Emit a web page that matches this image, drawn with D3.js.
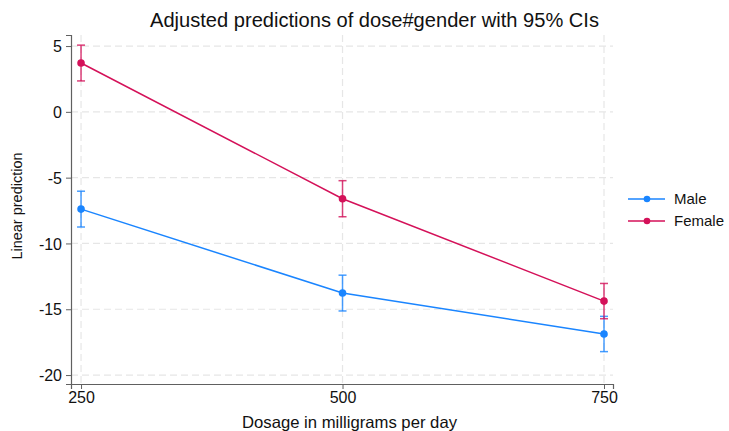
<!DOCTYPE html>
<html><head><meta charset="utf-8">
<script src="https://cdn.jsdelivr.net/npm/d3@7"></script>
<style>body{margin:0;background:#fff}svg{display:block}text{font-family:"Liberation Sans",Arial,sans-serif}</style>
</head><body><svg id="c" width="729" height="431"></svg>
<script>
const doses = [250, 500, 750];
const maleVals = [-7.39, -13.77, -16.88];
const maleLo = [-8.75, -15.13, -18.22];
const maleHi = [-6.03, -12.41, -15.54];
const femaleVals = [3.71, -6.6, -14.38];
const femaleLo = [2.35, -7.97, -15.72];
const femaleHi = [5.07, -5.23, -13.04];
const yTicks = [5, 0, -5, -10, -15, -20];
const xTicks = [250, 500, 750];
const seriesNames = ["Male", "Female"];
const colors = ["#1a85ff", "#d41159"];

const svg = d3.select("#c");
const x = d3.scaleLinear().domain([240.4, 758.6]).range([71, 613]);
const y = d3.scaleLinear().domain([-20.68, 5.84]).range([384, 35]);

// grid
svg.append("g").selectAll("line").data(yTicks).join("line")
  .attr("x1", 71).attr("x2", 613).attr("y1", d => y(d)).attr("y2", d => y(d))
  .attr("stroke", "#e6e6e6").attr("stroke-width", 1.2).attr("stroke-dasharray", "7,4");
svg.append("g").selectAll("line").data(xTicks).join("line")
  .attr("y1", 35).attr("y2", 384).attr("x1", d => x(d)).attr("x2", d => x(d))
  .attr("stroke", "#e6e6e6").attr("stroke-width", 1.2).attr("stroke-dasharray", "7,4");

// axes
const yAxis = svg.append("g").attr("transform", "translate(71,0)")
  .call(d3.axisLeft(y).tickValues(yTicks).tickSize(5).tickPadding(4).tickFormat(d => String(d)));
const xAxis = svg.append("g").attr("transform", "translate(0,384)")
  .call(d3.axisBottom(x).tickValues(xTicks).tickSize(5).tickPadding(3).tickFormat(d => String(d)));
[yAxis, xAxis].forEach(a => {
  a.select(".domain").attr("stroke", "#606060").attr("stroke-width", 1.2);
  a.selectAll(".tick line").attr("stroke", "#606060");
  a.selectAll("text").attr("font-size", 16).attr("fill", "#111").attr("font-family", "'Liberation Sans',Arial,sans-serif");
});
yAxis.selectAll("text").attr("dy", "0.35em");

const series = [
  {name: seriesNames[0], vals: maleVals, lo: maleLo, hi: maleHi, color: colors[0]},
  {name: seriesNames[1], vals: femaleVals, lo: femaleLo, hi: femaleHi, color: colors[1]}
];
const line = d3.line().x((d, i) => x(doses[i])).y(d => y(d));
series.forEach(s => {
  const g = svg.append("g");
  g.append("path").attr("d", line(s.vals)).attr("fill", "none").attr("stroke", s.color).attr("stroke-width", 1.5);
  doses.forEach((dv, i) => {
    g.append("line").attr("x1", x(dv)).attr("x2", x(dv)).attr("y1", y(s.lo[i])).attr("y2", y(s.hi[i]))
      .attr("stroke", s.color).attr("stroke-width", 1.5).attr("opacity", 0.8);
    [s.lo[i], s.hi[i]].forEach(v => g.append("line").attr("x1", x(dv) - 4).attr("x2", x(dv) + 4)
      .attr("y1", y(v)).attr("y2", y(v)).attr("stroke", s.color).attr("stroke-width", 1.5).attr("opacity", 0.8));
    g.append("circle").attr("cx", x(dv)).attr("cy", y(s.vals[i])).attr("r", 3.8).attr("fill", s.color);
  });
});

// legend
series.forEach((s, i) => {
  const ly = 199 + i * 22;
  svg.append("line").attr("x1", 628).attr("x2", 665).attr("y1", ly).attr("y2", ly).attr("stroke", s.color).attr("stroke-width", 1.5);
  svg.append("circle").attr("cx", 647).attr("cy", ly).attr("r", 3.3).attr("fill", s.color);
  svg.append("text").attr("x", 674).attr("y", ly).attr("dy", "0.35em").attr("font-size", 15).attr("fill", "#111").text(s.name);
});

// titles
svg.append("text").attr("x", 374.5).attr("y", 27).attr("text-anchor", "middle").attr("font-size", 19.5).attr("fill", "#111")
  .attr("textLength", 449).attr("lengthAdjust", "spacingAndGlyphs")
  .text("Adjusted predictions of dose#gender with 95% CIs");
svg.append("text").attr("x", 349.5).attr("y", 428).attr("text-anchor", "middle").attr("font-size", 16.5).attr("fill", "#111")
  .attr("textLength", 215).attr("lengthAdjust", "spacingAndGlyphs")
  .text("Dosage in milligrams per day");
svg.append("text").attr("transform", "translate(22,206) rotate(-90)").attr("text-anchor", "middle").attr("font-size", 14.5).attr("fill", "#111")
  .text("Linear prediction");
</script></body></html>
